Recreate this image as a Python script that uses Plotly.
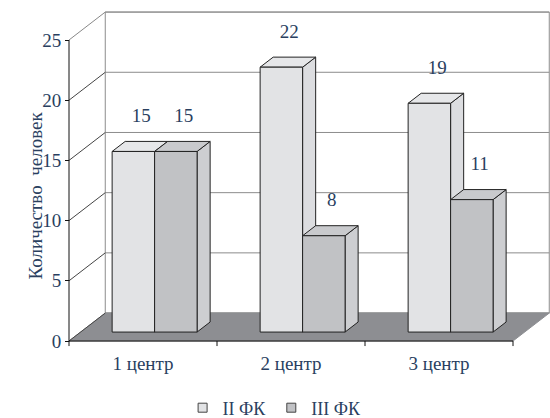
import plotly.graph_objects as go

# ---- data ----
categories = ["1 центр", "2 центр", "3 центр"]
series_names = ["II ФК", "III ФК"]
values_ii = [15, 22, 19]
values_iii = [15, 8, 11]
y_ticks = [0, 5, 10, 15, 20, 25]
y_title = "Количество  человек"

# ---- styling / geometry (pseudo-3D projection in data units) ----
D_X, D_Y = 0.245, 2.32        # full depth offset of the box
F0, F1 = 0.32, 0.68           # bar depth (front / back) as a fraction of the box depth
BAR_W = 0.287
front_cols = ["#e2e3e5", "#c1c2c5"]
top_cols = ["#e6e7e9", "#c9cacd"]
side_cols = ["#dcdde0", "#cdced1"]
FONT = "Liberation Serif"
YMAX = y_ticks[-1]

fig = go.Figure()

def poly(xs, ys, fill, line="#222", width=1):
    fig.add_trace(go.Scatter(x=xs + [xs[0]], y=ys + [ys[0]], mode="lines", fill="toself",
                             fillcolor=fill, line=dict(color=line, width=width),
                             showlegend=False, hoverinfo="skip"))

def seg(xs, ys, color, width=1):
    fig.add_trace(go.Scatter(x=xs, y=ys, mode="lines", line=dict(color=color, width=width),
                             showlegend=False, hoverinfo="skip"))

n = len(categories)
# back wall + gridlines
poly([D_X, n + D_X, n + D_X, D_X], [D_Y, D_Y, YMAX + D_Y, YMAX + D_Y], "white", line="#8c8c8c")
for v in y_ticks:
    seg([D_X, n + D_X], [v + D_Y, v + D_Y], "#8c8c8c")
# floor
poly([0, n, n + D_X, D_X], [0, 0, D_Y, D_Y], "#8d8e92", line="#8d8e92")
# left wall gridlines
for v in y_ticks:
    seg([0, D_X], [v, v + D_Y], "#444" if v < YMAX else "#888")
# front axes + category ticks
seg([0, 0], [0, YMAX], "#111")
seg([0, n], [0, 0], "#111")
for i in range(n + 1):
    seg([i, i], [0, -0.42], "#111")

# bars
ddx, ddy = (F1 - F0) * D_X, (F1 - F0) * D_Y
bx, by = F0 * D_X, F0 * D_Y
lab_x, lab_y, lab_t = [], [], []
for i in range(n):
    for s, vals in enumerate([values_ii, values_iii]):
        v = vals[i]
        x0 = i + 0.5 - BAR_W + s * BAR_W + bx
        x1 = x0 + BAR_W
        b, t = by, by + v
        poly([x1, x1 + ddx, x1 + ddx, x1], [b, b + ddy, t + ddy, t], side_cols[s])
        poly([x0, x1, x1 + ddx, x0 + ddx], [t, t, t + ddy, t + ddy], top_cols[s])
        poly([x0, x1, x1, x0], [b, b, t, t], front_cols[s])
        lab_x.append((x0 + x1) / 2 + ddx * 0.6)
        lab_y.append(t + ddy + 2.0)
        lab_t.append(str(v))

fig.add_trace(go.Scatter(x=lab_x, y=lab_y, text=lab_t, mode="text", textposition="middle center",
                         textfont=dict(family=FONT, size=19),
                         showlegend=False, hoverinfo="skip"))

# legend entries
for s, name in enumerate(series_names):
    fig.add_trace(go.Scatter(x=[None], y=[None], mode="markers", name=name,
                             marker=dict(symbol="square", size=9, color=front_cols[s],
                                         line=dict(color="#444", width=1))))

L, R, T, B = 40, 0, 10, 68
W, H = 550, 418
ppx = 148.0
x_lo = -(69 - L) / ppx
x_hi = x_lo + (W - L - R) / ppx
ppy = 12.04
y_lo = -(H - B - 341) / ppy
y_hi = y_lo + (H - T - B) / ppy
PW, PH = W - L - R, H - T - B

fig.update_layout(
    width=W, height=H, margin=dict(l=L, r=R, t=T, b=B, autoexpand=False),
    paper_bgcolor="white", plot_bgcolor="white",
    xaxis=dict(range=[x_lo, x_hi], tickvals=[i + 0.5 for i in range(n)], ticktext=categories,
               showgrid=False, zeroline=False, showline=False, ticks="", automargin=False,
               tickfont=dict(family=FONT, size=19)),
    yaxis=dict(range=[y_lo, y_hi], tickvals=y_ticks, ticktext=[str(v) for v in y_ticks],
               anchor="free", position=(69 - L) / PW, automargin=False,
               showgrid=False, zeroline=False, showline=False, ticks="outside", ticklen=4,
               tickcolor="#111", tickfont=dict(family=FONT, size=19)),
    legend=dict(orientation="h", x=0.46, xanchor="center", y=-(408 - (H - B)) / PH, yanchor="middle",
                font=dict(family=FONT, size=18), itemwidth=30),
    annotations=[dict(text=y_title, textangle=-90, x=(22 - L) / PW, y=(H - B - 196) / PH,
                      xref="paper", yref="paper", showarrow=False,
                      font=dict(family=FONT, size=19))],
    hovermode=False,
)

fig.write_html("out.html")
